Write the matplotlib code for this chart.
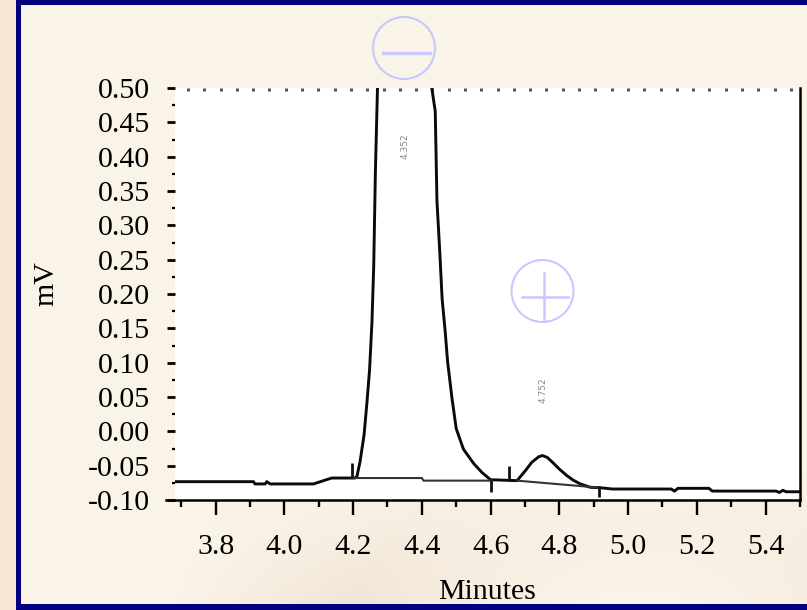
import numpy as np
import matplotlib
matplotlib.use("Agg")
import matplotlib.pyplot as plt
import matplotlib.transforms as mtransforms
from matplotlib.patches import Rectangle, Circle
from matplotlib.lines import Line2D

# ---------------- data ----------------
time_min = [3.682, 3.910, 3.915, 3.944, 3.949, 3.959, 4.085, 4.113, 4.138, 4.205,
            4.211, 4.220, 4.232, 4.240, 4.248, 4.255, 4.260, 4.265, 4.271, 4.300,
            4.350, 4.400, 4.429, 4.439, 4.444, 4.452, 4.459, 4.468, 4.475, 4.488,
            4.500, 4.521, 4.551, 4.575, 4.600, 4.677, 4.700, 4.720, 4.740, 4.751,
            4.765, 4.784, 4.800, 4.822, 4.840, 4.861, 4.890, 4.915, 4.955, 5.125,
            5.135, 5.145, 5.235, 5.245, 5.430, 5.440, 5.450, 5.460, 5.500]
signal_mv = [-0.0733, -0.0733, -0.0766, -0.0766, -0.0735, -0.0766, -0.0766, -0.0720, -0.0680, -0.0680,
             -0.0660, -0.045, -0.005, 0.040, 0.090, 0.160, 0.240, 0.380, 0.500, 1.00,
             1.30, 1.00, 0.500, 0.466, 0.335, 0.263, 0.193, 0.145, 0.101, 0.047,
             0.004, -0.026, -0.047, -0.060, -0.0705, -0.0718, -0.058, -0.045, -0.037, -0.0353,
             -0.038, -0.047, -0.055, -0.0645, -0.071, -0.0766, -0.0815, -0.082, -0.084, -0.084,
             -0.087, -0.083, -0.083, -0.087, -0.087, -0.089, -0.086, -0.088, -0.088]

base1_t = [4.196, 4.400, 4.405, 4.602]
base1_v = [-0.068, -0.068, -0.0718, -0.0718]
base2_t = [4.677, 4.915]
base2_v = [-0.0718, -0.082]

marker_t = [4.196, 4.602, 4.653, 4.915]
marker_lo = [-0.068, -0.089, -0.0718, -0.096]
marker_hi = [-0.046, -0.0705, -0.0507, -0.080]

peak_rt = [4.352, 4.752]
peak_labels = ["4.352", "4.752"]
peak_label_y = [0.415, 0.06]

x_ticks = [3.8, 4.0, 4.2, 4.4, 4.6, 4.8, 5.0, 5.2, 5.4]
x_tick_labels = ["3.8", "4.0", "4.2", "4.4", "4.6", "4.8", "5.0", "5.2", "5.4"]
y_ticks = [-0.10, -0.05, 0.00, 0.05, 0.10, 0.15, 0.20, 0.25, 0.30, 0.35, 0.40, 0.45, 0.50]
y_tick_labels = ["-0.10", "-0.05", "0.00", "0.05", "0.10", "0.15", "0.20",
                 "0.25", "0.30", "0.35", "0.40", "0.45", "0.50"]

# ---------------- figure ----------------
W, H = 807, 610
fig = plt.figure(figsize=(W / 100, H / 100), dpi=100)
fig.patch.set_facecolor("#FAF3E8")
plt.rcParams["font.family"] = ["Liberation Serif", "DejaVu Serif"]
FS = 21.5

# pixel transform (top-left origin)
PX = mtransforms.Affine2D().scale(1 / W, -1 / H).translate(0, 1) + fig.transFigure

# background with faint globe tint
bg = fig.add_axes([0, 0, 1, 1], zorder=-10)
bg.axis("off")
yy, xx = np.mgrid[0:H, 0:W]
base = np.array([250, 243, 232], dtype=float)
tan = np.array([232, 218, 196], dtype=float)
d = np.sqrt((xx - 640) ** 2 + (yy - 760) ** 2)
wgt = np.clip(1 - np.abs(d - 330) / 160, 0, 1) * np.clip((yy - 470) / 140, 0, 1) * 0.55
img = base[None, None, :] * (1 - wgt[..., None]) + tan[None, None, :] * wgt[..., None]
bg.imshow(img.astype(np.uint8), extent=[0, 1, 0, 1], aspect="auto")
bg.set_xlim(0, 1)
bg.set_ylim(0, 1)

# borders
fig.add_artist(Rectangle((0, 0), 16, H, transform=PX, facecolor="#F7E8D3", edgecolor="none", zorder=2))
fig.add_artist(Rectangle((16, 0), 5, H, transform=PX, facecolor="#000080", edgecolor="none", zorder=2))
fig.add_artist(Rectangle((16, 0), W - 16, 5, transform=PX, facecolor="#000080", edgecolor="none", zorder=2))
fig.add_artist(Rectangle((16, 604), W - 16, 6, transform=PX, facecolor="#000080", edgecolor="none", zorder=2))

# main axes
ax = fig.add_axes([175 / W, 1 - 500 / H, 625 / W, 412 / H])
ax.set_facecolor("white")
ax.set_xlim(3.682, 5.5)
ax.set_ylim(-0.10, 0.50)

ax.plot(time_min, signal_mv, color="#0a0a0a", lw=2.1, solid_joinstyle="miter")
ax.plot(base1_t, base1_v, color="#333333", lw=1.5)
ax.plot(base2_t, base2_v, color="#333333", lw=1.5)
ax.vlines(marker_t, marker_lo, marker_hi, color="#111111", lw=2.0)

for rt, lab, ly in zip(peak_rt, peak_labels, peak_label_y):
    ax.text(rt, ly, lab, rotation=90, fontsize=6.5, color="#888888",
            ha="center", va="center", family=["DejaVu Sans"])

# spines
for s in ["left", "top"]:
    ax.spines[s].set_visible(False)
ax.spines["right"].set_linewidth(1.8)
ax.spines["bottom"].set_linewidth(1.8)
ax.spines["bottom"].set_bounds(3.656, 5.5)

ax.set_xticks(x_ticks)
ax.set_xticklabels(x_tick_labels)
ax.set_xticks(np.arange(3.7, 5.51, 0.1), minor=True)
ax.set_yticks(y_ticks)
ax.set_yticklabels(y_tick_labels)
ax.set_yticks(np.arange(-0.075, 0.5, 0.05), minor=True)

ax.tick_params(axis="x", which="major", direction="out", length=10.5, width=1.7,
               labelsize=FS, pad=14)
ax.tick_params(axis="x", which="minor", direction="out", length=5, width=1.7)
ax.tick_params(axis="y", which="major", direction="out", length=6, width=2.0,
               labelsize=FS, pad=12)
ax.tick_params(axis="y", which="minor", direction="out", length=2.2, width=1.6)

# top dotted ticks
sec = ax.secondary_xaxis("top")
sec.set_xticks(np.arange(3.7197, 5.5, 0.0474))
sec.tick_params(direction="in", length=2, width=2.2, color="#555555", labeltop=False)
sec.spines["top"].set_visible(False)

ax.set_xlabel("Minutes", fontsize=FS, va="center")
ax.xaxis.set_label_coords((487 - 175) / 625, (500 - 592) / 412)
ax.set_ylabel("mV", fontsize=FS, va="center")
ax.yaxis.set_label_coords((46 - 175) / 625, (500 - 284) / 412)

# annotation symbols
lav = "#C8C8FF"
fig.add_artist(Circle((404, 48), 31, transform=PX, fill=False, edgecolor=lav, lw=1.5, zorder=5))
fig.add_artist(Line2D([383, 430], [53, 53], transform=PX, color=lav, lw=2.4, zorder=5))
fig.add_artist(Circle((542.5, 291), 31, transform=PX, fill=False, edgecolor=lav, lw=1.5, zorder=5))
fig.add_artist(Line2D([521.7, 568.3], [296.7, 296.7], transform=PX, color=lav, lw=1.8, zorder=5))
fig.add_artist(Line2D([544.3, 544.3], [273, 320], transform=PX, color=lav, lw=1.8, zorder=5))

fig.savefig("out.png", dpi=100, facecolor=fig.get_facecolor())
